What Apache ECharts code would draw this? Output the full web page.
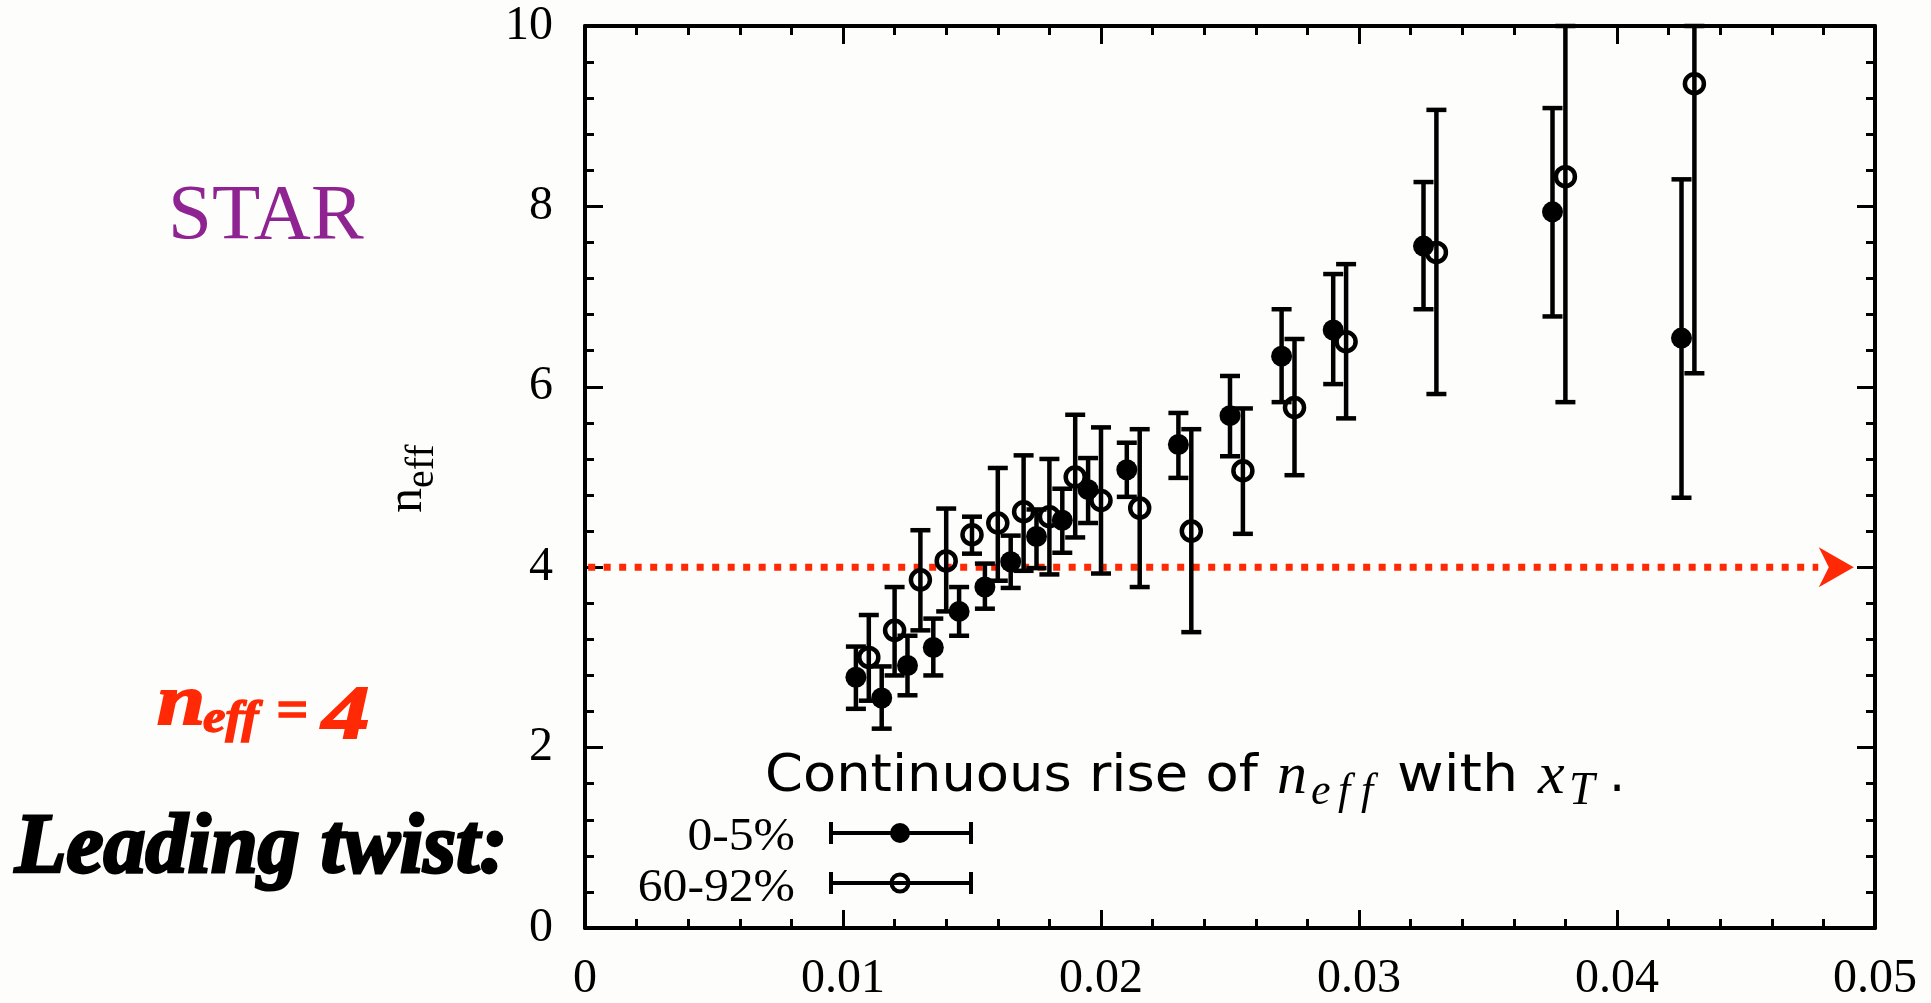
<!DOCTYPE html>
<html>
<head>
<meta charset="utf-8">
<script src="https://cdn.jsdelivr.net/npm/echarts@6/dist/echarts.min.js"></script>
<style>
html,body{margin:0;padding:0;background:#fdfdfb;}
#chart{width:1931px;height:1003px;}
</style>
</head>
<body>
<div id="chart"></div>
<script>
// ---- data ----
const xTicks = [0, 0.01, 0.02, 0.03, 0.04, 0.05];
const yTicks = [0, 2, 4, 6, 8, 10];

// 0-5% (filled)
const centralX  = [0.0105,0.0115,0.0125,0.0135,0.0145,0.0155,0.0165,0.0175,0.0185,0.0195,0.021,0.023,0.025,0.027,0.029,0.0325,0.0375,0.0425];
const centralY  = [2.78,2.55,2.91,3.11,3.51,3.78,4.06,4.34,4.52,4.86,5.08,5.36,5.68,6.34,6.63,7.56,7.94,6.54];
const centralLo = [2.43,2.21,2.58,2.80,3.24,3.54,3.77,3.99,4.16,4.49,4.78,4.99,5.23,5.83,6.03,6.86,6.78,4.77];
const centralHi = [3.12,2.90,3.24,3.43,3.78,4.04,4.35,4.64,4.87,5.21,5.38,5.71,6.12,6.86,7.25,8.27,9.09,8.30];

// 60-92% (open)
const periphX  = [0.011,0.012,0.013,0.014,0.015,0.016,0.017,0.018,0.019,0.020,0.0215,0.0235,0.0255,0.0275,0.0295,0.033,0.038,0.043];
const periphY  = [3.00,3.30,3.86,4.07,4.36,4.49,4.615,4.56,5.00,4.74,4.655,4.40,5.07,5.77,6.50,7.49,8.33,9.36];
const periphLo = [2.52,2.80,3.30,3.51,4.15,3.85,3.96,3.92,4.33,3.93,3.78,3.28,4.37,5.02,5.65,5.92,5.83,6.15];
const periphHi = [3.47,3.78,4.41,4.65,4.56,5.10,5.24,5.20,5.69,5.55,5.53,5.53,5.76,6.53,7.36,9.07,10.0,10.0];

// leading-twist reference line n_eff = 4
const refLineX = [-0.0179, 0.0478];
const refLineY = 4;
const refArrowX = 0.0485;

const legendNames = ['0-5%', '60-92%'];

// ---- helpers ----
const SERIF = '"Liberation Serif","Times New Roman",serif';
const SANS = '"DejaVu Sans","Bitstream Vera Sans",sans-serif';
const RED = '#ff2a05';

function T(text, x, base, size, opt) {
  opt = opt || {};
  const k = opt.sans ? 0.27 : 0.25;
  const st = {
    text: text, fill: opt.color || '#000',
    font: (opt.style || 'normal') + ' ' + (opt.weight || 'normal') + ' ' + size + 'px ' + (opt.sans ? SANS : SERIF),
    align: opt.align || 'left', verticalAlign: 'middle'
  };
  if (opt.heavy) { st.stroke = opt.color || '#000'; st.lineWidth = opt.heavy; st.lineJoin = 'round'; }
  return { type: 'text', x: x, y: base - k * size, scaleX: opt.sx || 1, z: 100, silent: true, style: st };
}

const pts = (xs, ys) => xs.map((x, i) => [x, ys[i]]);
const bars = (xs, lo, hi) => xs.map((x, i) => [x, lo[i], hi[i]]);

function errorBarItem(params, api) {
  const x = api.value(0), lo = api.value(1), hi = api.value(2);
  const t = api.coord([x, hi]), b = api.coord([x, lo]);
  const hw = 10;
  const st = { stroke: '#000', lineWidth: 4.5 };
  return {
    type: 'group', children: [
      { type: 'line', shape: { x1: t[0], y1: t[1], x2: b[0], y2: b[1] }, style: st },
      { type: 'line', shape: { x1: t[0] - hw, y1: t[1], x2: t[0] + hw, y2: t[1] }, style: st },
      { type: 'line', shape: { x1: b[0] - hw, y1: b[1], x2: b[0] + hw, y2: b[1] }, style: st }
    ]
  };
}

const tickCommon = {
  axisLine: { show: true, onZero: false, lineStyle: { color: '#000', width: 4 } },
  axisTick: { show: true, inside: true, length: 18, lineStyle: { color: '#000', width: 3 } },
  minorTick: { show: true, splitNumber: 5, length: 9, lineStyle: { color: '#000', width: 3 } },
  splitLine: { show: false },
  minorSplitLine: { show: false }
};

const chart = echarts.init(document.getElementById('chart'), null, { renderer: 'canvas' });

const graphics = [
  T('STAR', 168, 237, 79, { color: '#8e2391' }),
  {
    type: 'group', x: 420, y: 477, rotation: Math.PI / 2, children: [
      T('n', -36, 0, 50),
      T('eff', -11, 12, 40)
    ]
  },
  T('n', 157, 723, 72, { style: 'italic', weight: 'bold', color: RED, sx: 1.2, heavy: 2 }),
  T('eff', 203, 732, 46, { style: 'italic', weight: 'bold', color: RED, sx: 1.1, heavy: 1.5 }),
  T('=', 276, 728, 56, { style: 'italic', weight: 'bold', color: RED, heavy: 1.5 }),
  T('4', 322, 737, 76, { style: 'italic', weight: 'bold', color: RED, sx: 1.25, heavy: 2 }),
  T('Leading twist:', 15, 871, 84, { style: 'italic', weight: 'bold', heavy: 3 }),

  T('Continuous rise of', 765, 792, 51, { sans: true, sx: 1.065 }),
  T('n', 1277, 792, 60, { style: 'italic' }),
  T('e', 1311, 803, 44, { style: 'italic' }),
  T('f', 1338, 803, 44, { style: 'italic' }),
  T('f', 1361, 803, 44, { style: 'italic' }),
  T('with', 1397, 792, 51, { sans: true, sx: 1.12 }),
  T('x', 1538, 792, 60, { style: 'italic' }),
  T('T', 1569, 803, 46, { style: 'italic' }),
  T('.', 1609, 792, 51, { sans: true }),

  // legend
  T(legendNames[0], 795, 849, 46, { align: 'right', sx: 1.08 }),
  T(legendNames[1], 795, 900, 46, { align: 'right', sx: 1.08 }),
  { type: 'line', z: 100, shape: { x1: 829, y1: 833, x2: 973, y2: 833 }, style: { stroke: '#000', lineWidth: 4 } },
  { type: 'line', z: 100, shape: { x1: 831, y1: 822, x2: 831, y2: 844 }, style: { stroke: '#000', lineWidth: 4 } },
  { type: 'line', z: 100, shape: { x1: 971, y1: 822, x2: 971, y2: 844 }, style: { stroke: '#000', lineWidth: 4 } },
  { type: 'circle', z: 101, shape: { cx: 900, cy: 833, r: 10 }, style: { fill: '#000' } },
  { type: 'line', z: 100, shape: { x1: 829, y1: 883, x2: 973, y2: 883 }, style: { stroke: '#000', lineWidth: 4 } },
  { type: 'line', z: 100, shape: { x1: 831, y1: 872, x2: 831, y2: 894 }, style: { stroke: '#000', lineWidth: 4 } },
  { type: 'line', z: 100, shape: { x1: 971, y1: 872, x2: 971, y2: 894 }, style: { stroke: '#000', lineWidth: 4 } },
  { type: 'circle', z: 101, shape: { cx: 900, cy: 883, r: 8.5 }, style: { fill: 'none', stroke: '#000', lineWidth: 4 } }
];

chart.setOption({
  backgroundColor: '#fdfdfb',
  animation: false,
  grid: { left: 585, right: 56, top: 26, bottom: 75, containLabel: false },
  xAxis: [
    Object.assign({
      type: 'value', min: xTicks[0], max: xTicks[xTicks.length - 1], interval: 0.01, position: 'bottom',
      axisLabel: { show: true, color: '#000', fontFamily: SERIF, fontSize: 48, margin: 27 }
    }, tickCommon),
    Object.assign({
      type: 'value', min: xTicks[0], max: xTicks[xTicks.length - 1], interval: 0.01, position: 'top',
      axisLabel: { show: false }
    }, tickCommon)
  ],
  yAxis: [
    Object.assign({
      type: 'value', min: yTicks[0], max: yTicks[yTicks.length - 1], interval: 2, position: 'left',
      axisLabel: { show: true, color: '#000', fontFamily: SERIF, fontSize: 48, margin: 32 }
    }, tickCommon),
    Object.assign({
      type: 'value', min: yTicks[0], max: yTicks[yTicks.length - 1], interval: 2, position: 'right',
      axisLabel: { show: false }
    }, tickCommon)
  ],
  series: [
    {
      type: 'line', name: 'neff4', data: refLineX.map(x => [x, refLineY]),
      showSymbol: false, symbol: 'none', clip: false, silent: true, z: 1,
      lineStyle: { color: RED, width: 7, type: [7, 8.5], cap: 'butt', opacity: 1 }
    },
    {
      type: 'scatter', name: 'arrow', data: [[refArrowX, refLineY]], clip: false, silent: true, z: 1,
      symbol: 'path://M0,0L35,20L0,40L10,20Z', symbolSize: [35, 40],
      itemStyle: { color: RED, opacity: 1 }
    },
    {
      type: 'custom', name: legendNames[0] + ' err', renderItem: errorBarItem,
      data: bars(centralX, centralLo, centralHi), z: 3, silent: true
    },
    {
      type: 'custom', name: legendNames[1] + ' err', renderItem: errorBarItem,
      data: bars(periphX, periphLo, periphHi), z: 3, silent: true
    },
    {
      type: 'scatter', name: legendNames[0], data: pts(centralX, centralY), z: 5,
      symbol: 'circle', symbolSize: 21, itemStyle: { color: '#000', opacity: 1 }
    },
    {
      type: 'scatter', name: legendNames[1], data: pts(periphX, periphY), z: 5,
      symbol: 'circle', symbolSize: 19,
      itemStyle: { color: 'rgba(0,0,0,0)', borderColor: '#000', borderWidth: 4.5, opacity: 1 }
    }
  ],
  graphic: graphics
});
</script>
</body>
</html>
